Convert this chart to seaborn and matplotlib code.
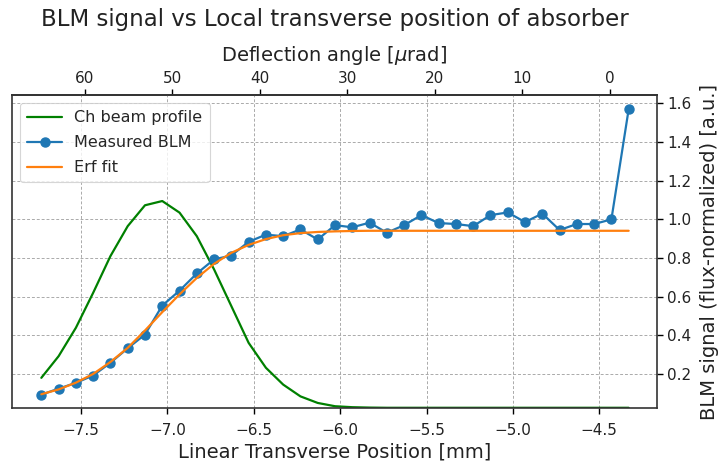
import numpy as np
import pandas as pd
import matplotlib
matplotlib.use("Agg")
import matplotlib.pyplot as plt
import seaborn as sns

# ---- data ----
position_mm = [-7.73, -7.63, -7.53, -7.43, -7.33, -7.23, -7.13, -7.03, -6.93, -6.83,
               -6.73, -6.63, -6.53, -6.43, -6.33, -6.23, -6.13, -6.03, -5.93, -5.83,
               -5.73, -5.63, -5.53, -5.43, -5.33, -5.23, -5.13, -5.03, -4.93, -4.83,
               -4.73, -4.63, -4.53, -4.43, -4.33]

measured_blm = [0.093, 0.124, 0.154, 0.192, 0.258, 0.333, 0.404, 0.554, 0.631, 0.720,
                0.793, 0.813, 0.884, 0.921, 0.913, 0.948, 0.896, 0.970, 0.959, 0.983,
                0.931, 0.970, 1.022, 0.981, 0.976, 0.965, 1.022, 1.036, 0.986, 1.030,
                0.945, 0.976, 0.976, 1.000, 1.570]

erf_fit = [0.095, 0.120, 0.155, 0.200, 0.262, 0.335, 0.425, 0.520, 0.612, 0.697,
           0.770, 0.827, 0.868, 0.898, 0.918, 0.929, 0.935, 0.938, 0.940, 0.941,
           0.941, 0.941, 0.941, 0.941, 0.941, 0.941, 0.941, 0.941, 0.941, 0.941,
           0.941, 0.941, 0.941, 0.941, 0.941]

beam_profile = [0.180, 0.292, 0.439, 0.620, 0.810, 0.965, 1.073, 1.095, 1.035, 0.913,
                0.741, 0.551, 0.361, 0.232, 0.145, 0.084, 0.050, 0.033, 0.028, 0.026,
                0.025, 0.025, 0.025, 0.025, 0.025, 0.025, 0.025, 0.025, 0.025, 0.025,
                0.025, 0.025, 0.025, 0.025, 0.025]

angle_ticks = [60, 50, 40, 30, 20, 10, 0]
# conversion position [mm] -> deflection angle [urad]
X_ZERO = -4.44
URAD_PER_MM = 19.74

df = pd.DataFrame({"pos": position_mm, "blm": measured_blm,
                   "fit": erf_fit, "prof": beam_profile})

sns.set_theme(style="ticks")
plt.rcParams["font.family"] = ["DejaVu Sans"]

fig = plt.figure(figsize=(7.21, 4.71), dpi=100)
ax = fig.add_axes([0.0166, 0.133, 0.8944, 0.665])

sns.lineplot(data=df, x="pos", y="prof", ax=ax, color="green", lw=1.6,
             label="Ch beam profile", sort=False)
sns.lineplot(data=df, x="pos", y="blm", ax=ax, color="#1f77b4", lw=1.6,
             marker="o", markersize=6.5, markeredgecolor="#1f77b4",
             markeredgewidth=1, label="Measured BLM", sort=False)
sns.lineplot(data=df, x="pos", y="fit", ax=ax, color="#ff7f0e", lw=1.6,
             label="Erf fit", sort=False)

ax.set_ylim(0.022, 1.643)
ax.set_xlim(-7.90, -4.167)
ax.yaxis.tick_right()
ax.yaxis.set_label_position("right")
ax.set_yticks([0.2, 0.4, 0.6, 0.8, 1.0, 1.2, 1.4, 1.6])
ax.set_xticks([-7.5, -7.0, -6.5, -6.0, -5.5, -5.0, -4.5])
ax.tick_params(axis="both", labelsize=11, direction="out", length=4, width=1,
               color="black", labelcolor="#222222")
ax.tick_params(axis="x", pad=6.5)
ax.set_xlabel("Linear Transverse Position [mm]", fontsize=14, color="#222222",
              labelpad=3)
ax.set_ylabel("BLM signal (flux-normalized) [a.u.]", fontsize=14, color="#222222",
              labelpad=6)
ax.grid(True, linestyle=(0, (3, 2)), color="#aaaaaa", linewidth=0.7)
for sp in ax.spines.values():
    sp.set_visible(True)
    sp.set_color("#333333")
    sp.set_linewidth(1.2)

sec = ax.secondary_xaxis("top",
                         functions=(lambda x: (X_ZERO - x) * URAD_PER_MM,
                                    lambda a: X_ZERO - a / URAD_PER_MM))
sec.set_xticks(angle_ticks)
sec.set_xticklabels([str(t) for t in angle_ticks])
sec.tick_params(labelsize=11, direction="out", length=4, width=1, pad=2.5,
                color="black", labelcolor="#222222")
sec.set_xlabel("Deflection angle [$\\mu$rad]", fontsize=14, color="#222222",
               labelpad=7)

leg = ax.legend(loc="upper left", fontsize=11.5, frameon=True, fancybox=True,
                borderpad=0.45, handlelength=2.2, labelspacing=0.62,
                handletextpad=0.75)
leg.get_frame().set_edgecolor("#cccccc")
leg.get_frame().set_linewidth(0.8)

fig.suptitle("BLM signal vs Local transverse position of absorber",
             fontsize=16.5, y=0.982, x=0.464, color="#222222")

fig.savefig("out.png", dpi=100)
